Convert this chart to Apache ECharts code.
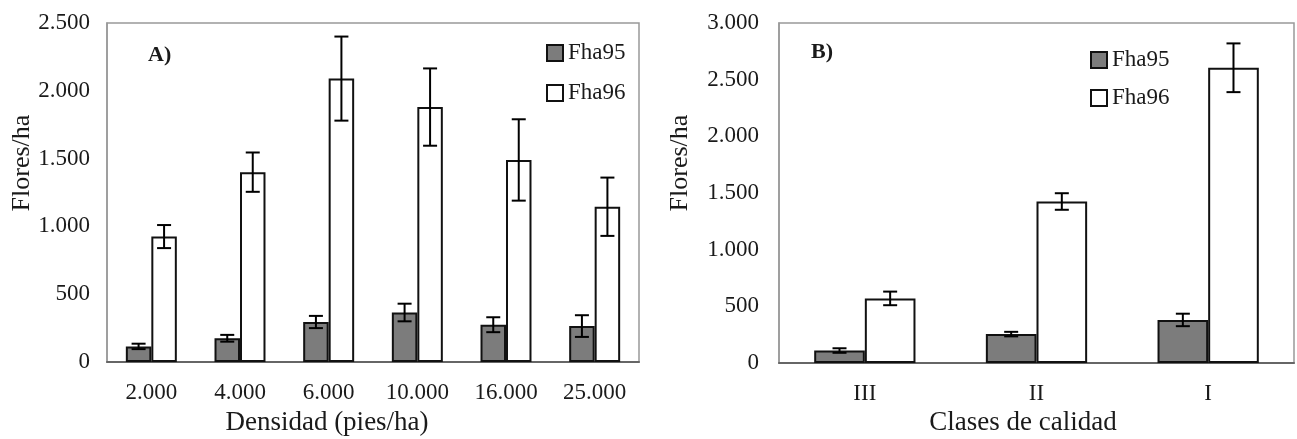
<!DOCTYPE html>
<html>
<head>
<meta charset="utf-8">
<script src="https://cdn.jsdelivr.net/npm/echarts@6/dist/echarts.min.js"></script>
<style>
  html, body { margin: 0; padding: 0; background: #fff; }
  #chart { width: 1297px; height: 439px; }
</style>
</head>
<body>
<div id="chart"></div>
<script>
// panel A data
var densidad = ['2.000', '4.000', '6.000', '10.000', '16.000', '25.000'];
var fha95A = [115, 175, 295, 365, 275, 265];
var fha95AErr = [20, 25, 45, 65, 55, 80];
var fha96A = [925, 1400, 2090, 1880, 1490, 1145];
var fha96AErr = [85, 145, 310, 285, 300, 215];
var yTicksA = ['0', '500', '1.000', '1.500', '2.000', '2.500'];

// panel B data
var clases = ['III', 'II', 'I'];
var fha95B = [110, 255, 380];
var fha95BErr = [20, 20, 55];
var fha96B = [570, 1425, 2605];
var fha96BErr = [60, 73, 215];
var yTicksB = ['0', '500', '1.000', '1.500', '2.000', '2.500', '3.000'];

var serif = 'Liberation Serif';
var txt = '#1a1a1a';
var gapA = 0.425, gapB = 0.41;

var chart = echarts.init(document.getElementById('chart'));

function errData(vals, errs) {
  var out = [];
  for (var i = 0; i < vals.length; i++) out.push([i, vals[i], errs[i]]);
  return out;
}

// error bar drawn next to its bar: side -1 = left bar, +1 = right bar
function errRender(gap, side, cap) {
  return function (params, api) {
    var c = api.coord([api.value(0), api.value(1)]);
    var band = api.size([1, 0])[0];
    var x = c[0] + side * band * (1 - gap) / 4;
    var e = api.size([0, api.value(2)])[1];
    var st = { stroke: '#000', lineWidth: 2 };
    return {
      type: 'group',
      children: [
        { type: 'line', shape: { x1: x, y1: c[1] - e, x2: x, y2: c[1] + e }, style: st },
        { type: 'line', shape: { x1: x - cap, y1: c[1] - e, x2: x + cap, y2: c[1] - e }, style: st },
        { type: 'line', shape: { x1: x - cap, y1: c[1] + e, x2: x + cap, y2: c[1] + e }, style: st }
      ]
    };
  };
}

function yAxisCfg(idx, max, ticks, margin) {
  return {
    type: 'value', gridIndex: idx, min: 0, max: max, interval: 500,
    axisLine: { show: true, lineStyle: { color: '#999', width: 1.5 } },
    axisTick: { show: false },
    splitLine: { show: false },
    axisLabel: {
      margin: margin, color: txt, fontFamily: serif, fontSize: 23,
      formatter: function (v) { return ticks[Math.round(v / 500)]; }
    }
  };
}

function xAxisCfg(idx, cats) {
  return {
    type: 'category', gridIndex: idx, data: cats,
    axisLine: { show: true, lineStyle: { color: '#666', width: 2 } },
    axisTick: { show: false },
    axisLabel: { margin: 19, color: txt, fontFamily: serif, fontSize: 23 }
  };
}

var barGray = { color: '#7c7c7c', borderColor: '#111', borderWidth: 2 };
var barWhite = { color: '#fff', borderColor: '#111', borderWidth: 2 };

var option = {
  backgroundColor: '#fff',
  animation: false,
  grid: [
    { left: 107, right: 658, top: 23, bottom: 77, show: true, borderColor: '#999', borderWidth: 1.5 },
    { left: 779, right: 3, top: 23, bottom: 76, show: true, borderColor: '#999', borderWidth: 1.5 }
  ],
  legend: [
    {
      left: 546, top: 41, padding: 0, orient: 'vertical', itemWidth: 16, itemHeight: 16, itemGap: 16,
      icon: 'rect', data: ['Fha95', 'Fha96'],
      textStyle: { fontFamily: serif, fontSize: 23, color: txt, lineHeight: 24 }
    },
    {
      left: 1090, top: 48, padding: 0, orient: 'vertical', itemWidth: 16, itemHeight: 16, itemGap: 14,
      icon: 'rect', data: ['Fha95', 'Fha96'],
      textStyle: { fontFamily: serif, fontSize: 23, color: txt, lineHeight: 24 }
    }
  ],
  xAxis: [xAxisCfg(0, densidad), xAxisCfg(1, clases)],
  yAxis: [yAxisCfg(0, 2500, yTicksA, 17), yAxisCfg(1, 3000, yTicksB, 20)],
  series: [
    { name: 'Fha95', type: 'bar', xAxisIndex: 0, yAxisIndex: 0, data: fha95A, itemStyle: barGray, barGap: '0%', barCategoryGap: (gapA * 100) + '%' },
    { name: 'Fha96', type: 'bar', xAxisIndex: 0, yAxisIndex: 0, data: fha96A, itemStyle: barWhite, barGap: '0%', barCategoryGap: (gapA * 100) + '%' },
    { name: 'Fha95', type: 'bar', xAxisIndex: 1, yAxisIndex: 1, data: fha95B, itemStyle: barGray, barGap: '0%', barCategoryGap: (gapB * 100) + '%' },
    { name: 'Fha96', type: 'bar', xAxisIndex: 1, yAxisIndex: 1, data: fha96B, itemStyle: barWhite, barGap: '0%', barCategoryGap: (gapB * 100) + '%' },
    { type: 'custom', xAxisIndex: 0, yAxisIndex: 0, z: 10, data: errData(fha95A, fha95AErr), renderItem: errRender(gapA, -1, 7), encode: { x: 0, y: 1 } },
    { type: 'custom', xAxisIndex: 0, yAxisIndex: 0, z: 10, data: errData(fha96A, fha96AErr), renderItem: errRender(gapA, 1, 7), encode: { x: 0, y: 1 } },
    { type: 'custom', xAxisIndex: 1, yAxisIndex: 1, z: 10, data: errData(fha95B, fha95BErr), renderItem: errRender(gapB, -1, 7), encode: { x: 0, y: 1 } },
    { type: 'custom', xAxisIndex: 1, yAxisIndex: 1, z: 10, data: errData(fha96B, fha96BErr), renderItem: errRender(gapB, 1, 7), encode: { x: 0, y: 1 } }
  ],
  graphic: [
    { type: 'text', x: 148, y: 55, style: { text: 'A)', font: 'bold 22px "Liberation Serif"', fill: txt, verticalAlign: 'middle' } },
    { type: 'text', x: 811, y: 52, style: { text: 'B)', font: 'bold 22px "Liberation Serif"', fill: txt, verticalAlign: 'middle' } },
    { type: 'text', x: 22, y: 163, rotation: Math.PI / 2, style: { text: 'Flores/ha', font: '26px "Liberation Serif"', fill: txt, align: 'center', verticalAlign: 'middle' } },
    { type: 'text', x: 680, y: 163, rotation: Math.PI / 2, style: { text: 'Flores/ha', font: '26px "Liberation Serif"', fill: txt, align: 'center', verticalAlign: 'middle' } },
    { type: 'text', x: 327, y: 423, style: { text: 'Densidad (pies/ha)', font: '27px "Liberation Serif"', fill: txt, align: 'center', verticalAlign: 'middle' } },
    { type: 'text', x: 1023, y: 423, style: { text: 'Clases de calidad', font: '27px "Liberation Serif"', fill: txt, align: 'center', verticalAlign: 'middle' } }
  ]
};

chart.setOption(option);
</script>
</body>
</html>
